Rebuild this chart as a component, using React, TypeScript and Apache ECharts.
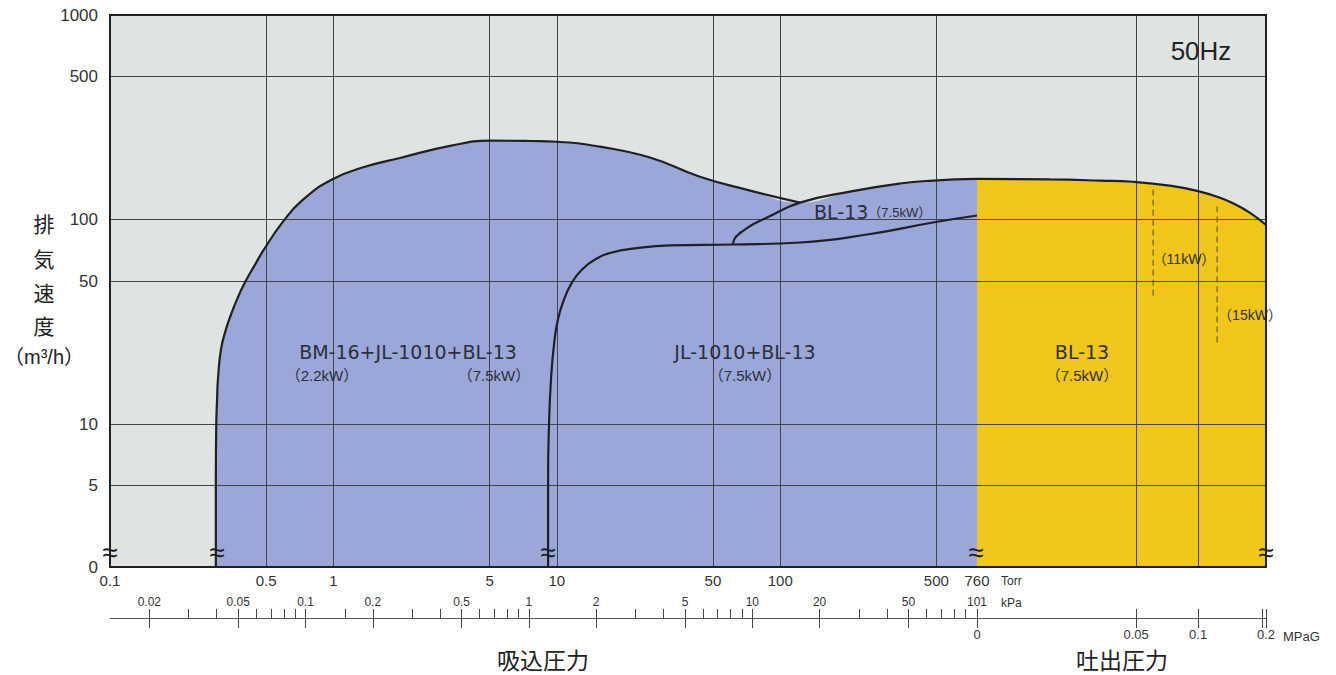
import React, { useEffect, useRef } from 'react';
import * as echarts from 'echarts';

// Discharge axis (MPaG) is drawn on a log axis of (P + OFFSET) to mimic the compressed scale.
const OFFSET = 0.015;

// ---- tick values ----
const torrLabels = [0.1, 0.5, 1, 5, 10, 50, 100, 500, 760];
const torrGrid = [0.5, 1, 5, 10, 50, 100, 500];
const flowLabels = [2, 5, 10, 50, 100, 500, 1000];
const flowGrid = [5, 10, 50, 100, 500];
const kpaMajor = [0.02, 0.05, 0.1, 0.2, 0.5, 1, 2, 5, 10, 20, 50, 101.325];
const kpaMinor = [0.03, 0.04, 0.06, 0.07, 0.08, 0.09, 0.15, 0.3, 0.4, 0.6, 0.7, 0.8, 0.9, 3, 4, 6, 7, 8, 9, 30, 40, 60, 70, 80, 90];
const mpagLabels = [0, 0.05, 0.1, 0.2];
const mpagGrid = [0.05, 0.1];
const mpagBreak = [0.193];

// ---- curves: [Torr, m3/h] ----
const bmCurve = [
  [0.2977, 2], [0.2977, 5.4], [0.299, 10], [0.3015, 13.2], [0.3043, 16.6], [0.314, 23.2], [0.3306, 29.1],
  [0.3446, 33.3], [0.3703, 40.7], [0.4021, 49.3], [0.4412, 59], [0.489, 71.4], [0.5949, 97.7],
  [0.731, 125], [0.986, 157], [1.385, 181], [1.987, 200], [3.33, 229], [5.02, 243], [7.59, 242],
  [10.0, 240], [15.6, 227], [26.1, 201], [43.7, 162], [73.3, 138.5], [122.7, 121],
];
const blUpper = [
  [61.5, 75.5], [62.3, 80], [65, 84.5], [68.2, 88], [76, 95], [87.3, 102.3], [122.7, 121], [205, 137],
  [343, 150], [483, 155], [760, 158],
];
const jlLower = [
  [9.14, 2], [9.14, 5.4], [9.23, 10], [9.42, 16.6], [9.72, 24.6], [10.12, 32.5], [10.77, 40.7],
  [11.7, 49.3], [12.97, 57], [14.83, 63.8], [17.66, 69], [22.4, 72.2], [32.1, 74.7], [61.5, 75.5],
  [122.7, 77.2], [245, 84.5], [483, 96.7], [760, 104.6],
];
// ---- discharge: [MPaG, m3/h] ----
const dischargeTop = [
  [0, 158], [0.0144, 157], [0.0316, 155], [0.048, 153], [0.075, 146], [0.102, 137],
  [0.125, 128], [0.1436, 120], [0.17, 108], [0.2, 94],
];
const dash11kW = [[0.061, 140], [0.061, 40.7]];
const dash15kW = [[0.122, 116], [0.122, 24.5]];

const BG = '#dfe3e1';
const BLUE = '#9ba7d8';
const YELLOW = '#f1c61b';
const GRID = '#3f454c';
const INK = '#1f2026';
const TXT = '#2b2f3a';
const LAT = "'Liberation Sans', 'Noto Sans CJK JP', sans-serif";
const WIDE = "'DejaVu Sans', 'Noto Sans CJK JP', sans-serif";
const JP = "'Noto Sans CJK JP', sans-serif";
const SMOOTH = 0.5;

const shift = (arr: number[][]) => arr.map(([x, y]) => [x + OFFSET, y]);

export default function App() {
  const ref = useRef<HTMLDivElement>(null);
  useEffect(() => {
    if (!ref.current) return;
    const chart = echarts.init(ref.current, null, { renderer: 'svg' });
    const junction = bmCurve[bmCurve.length - 1][0];
    const blueEnvelope = [...bmCurve, ...blUpper.filter((p) => p[0] > junction)];

    const hidden = { show: false };
    const txt = (text: string, x: number, y: number, size: number, extra: any = {}) => ({
      type: 'text', x, y, z: 10, silent: true,
      style: { text, fontSize: size, fontFamily: LAT, fill: TXT, align: 'center', verticalAlign: 'middle', lineHeight: size, ...extra },
    });
    const outline = (xi: number, data: number[][]) => ({
      type: 'line', xAxisIndex: xi, yAxisIndex: xi, data, smooth: SMOOTH, symbol: 'none', z: 5, silent: true,
      lineStyle: { color: INK, width: 2.2 },
    });
    const fill = (xi: number, data: number[][], color: string) => ({
      type: 'line', xAxisIndex: xi, yAxisIndex: xi, data, smooth: SMOOTH, symbol: 'none', z: 2, silent: true,
      lineStyle: { width: 0, opacity: 0 }, areaStyle: { color, opacity: 1, origin: 'start' },
    });
    const dashed = (data: number[][]) => ({
      type: 'line', xAxisIndex: 1, yAxisIndex: 1, data, symbol: 'none', z: 5, silent: true,
      lineStyle: { color: '#4a4a40', width: 1, type: [6, 4] },
    });

    const option: any = {
      animation: false,
      backgroundColor: '#ffffff',
      grid: [
        { left: 110, top: 15, width: 867, height: 552, show: true, backgroundColor: BG, borderWidth: 0, containLabel: false, outerBoundsMode: 'none' },
        { left: 977, top: 15, width: 289, height: 552, show: true, backgroundColor: BG, borderWidth: 0, containLabel: false, outerBoundsMode: 'none' },
      ],
      xAxis: [
        {
          type: 'log', gridIndex: 0, min: 0.1, max: 760, position: 'bottom', z: 3,
          axisLine: { show: true, lineStyle: { color: INK, width: 2 } },
          axisTick: { show: false, customValues: torrGrid },
          axisLabel: { customValues: torrLabels, margin: 6, fontSize: 15, color: '#333', fontFamily: LAT, formatter: (v: number) => String(v) },
          splitLine: { show: true, lineStyle: { color: GRID, width: 1 } },
        },
        {
          type: 'log', gridIndex: 1, min: OFFSET, max: 0.2 + OFFSET, position: 'bottom', z: 3,
          axisLine: { show: true, lineStyle: { color: INK, width: 2 } },
          axisTick: { show: false, customValues: mpagGrid.map((v) => v + OFFSET) },
          axisLabel: hidden,
          splitLine: { show: true, lineStyle: { color: GRID, width: 1 } },
        },
        { type: 'value', gridIndex: 0, min: 0, max: 1, position: 'top', z: 3, axisLine: { show: true, lineStyle: { color: INK, width: 2 } }, axisTick: hidden, axisLabel: hidden, splitLine: hidden },
        { type: 'value', gridIndex: 1, min: 0, max: 1, position: 'top', z: 3, axisLine: { show: true, lineStyle: { color: INK, width: 2 } }, axisTick: hidden, axisLabel: hidden, splitLine: hidden },
        {
          type: 'log', gridIndex: 0, min: 0.0133322, max: 101.325, position: 'bottom', offset: 51,
          axisLine: { show: true, lineStyle: { color: '#555', width: 1 } },
          axisTick: { show: true, inside: true, length: 9, customValues: [...kpaMajor, ...kpaMinor], lineStyle: { color: '#444', width: 1 } },
          axisLabel: { inside: true, margin: 10, customValues: kpaMajor, fontSize: 12, color: '#333', fontFamily: LAT, formatter: (v: number) => (v > 100 ? '101' : String(v)) },
          splitLine: hidden,
        },
        {
          type: 'log', gridIndex: 0, min: 0.0133322, max: 101.325, position: 'bottom', offset: 51,
          axisLine: hidden,
          axisTick: { show: true, inside: false, length: 10, customValues: kpaMajor, lineStyle: { color: '#444', width: 1 } },
          axisLabel: hidden, splitLine: hidden,
        },
        {
          type: 'log', gridIndex: 1, min: OFFSET, max: 0.2 + OFFSET, position: 'bottom', offset: 51,
          axisLine: { show: true, lineStyle: { color: '#555', width: 1 } },
          axisTick: { show: true, inside: true, length: 9, customValues: [...mpagLabels.slice(1), ...mpagBreak].map((v) => v + OFFSET), lineStyle: { color: '#444', width: 1 } },
          axisLabel: hidden, splitLine: hidden,
        },
        {
          type: 'log', gridIndex: 1, min: OFFSET, max: 0.2 + OFFSET, position: 'bottom', offset: 51,
          axisLine: hidden,
          axisTick: { show: true, inside: false, length: 10, customValues: [...mpagLabels, ...mpagBreak].map((v) => v + OFFSET), lineStyle: { color: '#444', width: 1 } },
          axisLabel: { customValues: mpagLabels.map((v) => v + OFFSET), margin: 10, fontSize: 13, color: '#333', fontFamily: LAT, formatter: (v: number) => String(+(v - OFFSET).toFixed(2)) },
          splitLine: hidden,
        },
      ],
      yAxis: [
        {
          type: 'log', gridIndex: 0, min: 2, max: 1000, position: 'left', z: 3,
          axisLine: { show: true, lineStyle: { color: INK, width: 2 } },
          axisTick: { show: false, customValues: flowGrid },
          axisLabel: { customValues: flowLabels, margin: 12, fontSize: 17, color: '#333', fontFamily: LAT, formatter: (v: number) => (v < 3 ? '0' : String(Math.round(v))) },
          splitLine: { show: true, lineStyle: { color: GRID, width: 1 } },
        },
        {
          type: 'log', gridIndex: 1, min: 2, max: 1000, position: 'left', z: 3,
          axisLine: hidden,
          axisTick: { show: false, customValues: flowGrid },
          axisLabel: hidden,
          splitLine: { show: true, lineStyle: { color: GRID, width: 1 } },
        },
        { type: 'value', gridIndex: 1, min: 0, max: 1, position: 'right', z: 3, axisLine: { show: true, lineStyle: { color: INK, width: 2 } }, axisTick: hidden, axisLabel: hidden, splitLine: hidden },
      ],
      series: [
        fill(0, blueEnvelope, BLUE),
        fill(1, shift(dischargeTop), YELLOW),
        outline(0, bmCurve),
        outline(0, blUpper),
        outline(0, jlLower),
        outline(1, shift(dischargeTop)),
        dashed(shift(dash11kW)),
        dashed(shift(dash15kW)),
      ],
      graphic: [
        txt('50Hz', 1201, 51, 26, { fill: '#222' }),
        txt('BM-16+JL-1010+BL-13', 408, 352, 19, { fontFamily: WIDE }),
        txt('（2.2kW）', 322, 375, 15),
        txt('（7.5kW）', 494, 375, 15),
        txt('JL-1010+BL-13', 745, 352, 19, { fontFamily: WIDE }),
        txt('（7.5kW）', 745, 375, 15),
        txt('BL-13', 1082, 352, 19, { fontFamily: WIDE }),
        txt('（7.5kW）', 1082, 375, 15),
        {
          type: 'text', x: 814, y: 212, z: 10, silent: true,
          style: {
            text: '{a|BL-13}{b|（7.5kW）}', align: 'left', verticalAlign: 'middle',
            rich: { a: { fontSize: 19, fontFamily: WIDE, fill: TXT }, b: { fontSize: 13, fontFamily: LAT, fill: TXT } },
          },
        },
        txt('（11kW）', 1184, 259, 14),
        txt('（15kW）', 1250, 315, 14),
        txt('排', 44, 223, 21, { fontFamily: JP, fill: '#222' }),
        txt('気', 44, 258, 21, { fontFamily: JP, fill: '#222' }),
        txt('速', 44, 292, 21, { fontFamily: JP, fill: '#222' }),
        txt('度', 44, 325, 21, { fontFamily: JP, fill: '#222' }),
        txt('（m³/h）', 44, 357, 20, { fill: '#222' }),
        txt('Torr', 1001, 581, 12, { align: 'left', fill: '#333' }),
        txt('kPa', 1001, 603, 12, { align: 'left', fill: '#333' }),
        txt('MPaG', 1283, 636, 13, { align: 'left', fill: '#333' }),
        txt('吸込圧力', 543, 659, 23, { fontFamily: JP, fill: '#222' }),
        txt('吐出圧力', 1122, 659, 23, { fontFamily: JP, fill: '#222' }),
        txt('≈', 110, 552, 28, { fill: INK }),
        txt('≈', 217, 552, 28, { fill: INK }),
        txt('≈', 548, 552, 28, { fill: INK }),
        txt('≈', 976, 552, 28, { fill: INK }),
        txt('≈', 1266, 552, 28, { fill: INK }),
      ],
    };
    chart.setOption(option);
    return () => chart.dispose();
  }, []);
  return <div ref={ref} style={{ position: 'fixed', left: 0, top: 0, width: 1336, height: 675 }} />;
}
